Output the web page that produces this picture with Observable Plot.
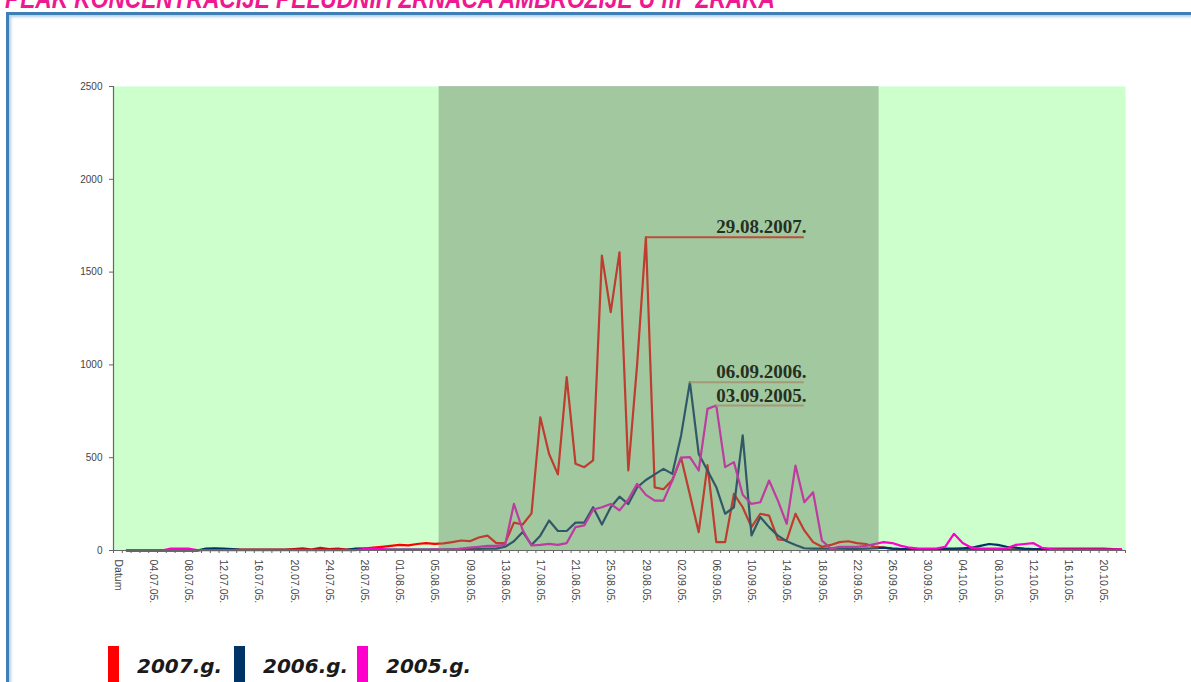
<!DOCTYPE html>
<html>
<head>
<meta charset="utf-8">
<script src="https://cdn.jsdelivr.net/npm/d3@7"></script>
<script src="https://cdn.jsdelivr.net/npm/@observablehq/plot@0.6"></script>
<style>
  body { margin: 0; background: #fff; }
  #wrap { position: relative; width: 1191px; height: 682px; overflow: hidden; background: #fff; }
  #frame { position: absolute; left: 6px; top: 12px; width: 1250px; height: 720px;
           border: 3px solid #3f7fb6; box-shadow: inset 2px 2px 3px #b4d0e8; box-sizing: border-box; }
  #chart, #title, #legend { position: absolute; left: 0; top: 0; }
</style>
</head>
<body>
<div id="wrap">
  <div id="frame"></div>
  <svg id="title" width="1191" height="30"></svg>
  <div id="chart"></div>
  <svg id="legend" width="1191" height="682"></svg>
</div>
<script>
// ---------- data ----------
const titleText = "PEAK KONCENTRACIJE PELUDNIH ZRNACA AMBROZIJE U m³ ZRAKA";

// daily categories: "Datum" followed by 01.07. ... 22.10.
const fmt = d3.utcFormat("%d.%m.%y.");
const categories = ["Datum", ...d3.utcDay.range(Date.UTC(2005, 6, 1), Date.UTC(2005, 9, 23)).map(fmt)];

const tickLabels = ["Datum","04.07.05.","08.07.05.","12.07.05.","16.07.05.","20.07.05.","24.07.05.",
  "28.07.05.","01.08.05.","05.08.05.","09.08.05.","13.08.05.","17.08.05.","21.08.05.","25.08.05.",
  "29.08.05.","02.09.05.","06.09.05.","10.09.05.","14.09.05.","18.09.05.","22.09.05.","26.09.05.",
  "30.09.05.","04.10.05.","08.10.05.","12.10.05.","16.10.05.","20.10.05."];

const yTicks = [0, 500, 1000, 1500, 2000, 2500];

// main ragweed season band (shaded)
const season = ["06.08.05.", "24.09.05."];

// values for 01.07. ... 22.10.
const v2007 = [
  0,0,0,0,0,0,0,0,0,
  5,5,5,5,5,5,5,5,5,5,
  8,12,5,15,8,10,5,8,10,15,
  20,25,30,28,35,40,36,38,45,54,
  50,70,80,40,40,150,140,200,718,520,
  410,934,467,449,485,1589,1284,1607,431,1000,
  1688,340,330,380,500,300,99,460,45,45,
  305,233,126,198,188,60,55,198,108,45,
  20,30,45,50,40,35,20,15,10,8,
  6,5,5,5,5,5,5,5,5,5,
  5,5,5,5,5,8,10,10,10,10,
  10,10,10,8,5];
const v2006 = [
  0,0,0,0,0,0,0,0,0,
  10,12,10,8,3,3,3,3,3,3,
  3,3,3,3,3,3,3,10,10,3,
  3,5,5,5,5,5,5,5,6,8,
  8,8,10,10,20,50,100,30,80,162,
  105,105,150,150,233,140,233,290,250,340,
  380,410,440,413,620,907,520,431,341,198,
  233,620,81,180,126,80,50,30,12,10,
  10,10,10,8,8,10,12,15,10,8,
  8,8,8,8,10,10,12,15,25,35,
  30,20,15,10,8,8,5,5,5,5,
  5,5,5,5,5];
const v2005 = [
  0,0,0,0,0,10,10,10,2,
  2,2,2,2,2,2,2,2,2,2,
  2,2,2,2,2,2,2,2,8,10,
  8,3,3,3,3,3,5,5,5,10,
  15,20,25,25,30,251,110,27,30,36,
  30,40,126,135,220,233,251,216,275,359,
  300,269,269,377,500,503,431,763,781,449,
  476,300,251,260,377,269,144,458,260,314,
  54,10,20,20,20,25,35,45,40,25,
  15,10,10,10,20,90,40,15,10,10,
  10,12,30,35,40,15,8,5,5,5,
  5,5,5,5,8];

const seriesNames = ["2007.g.", "2006.g.", "2005.g."];
const seriesColors = ["#ff0000", "#003366", "#ff00cc"];
const seriesValues = [v2007, v2006, v2005];
const peakLabels = ["29.08.2007.", "06.09.2006.", "03.09.2005."];
const peakLineColors = ["#b9503a", "#a39a78", "#a39a78"];

// ---------- build ----------
const rows = [];
seriesValues.forEach((vals, s) => vals.forEach((v, i) => rows.push({s, k: i + 1, v})));

const annots = seriesValues.map((vals, s) => {
  const i = d3.maxIndex(vals);
  return {s, k: i + 1, v: vals[i], label: peakLabels[s], color: peakLineColors[s]};
});

const labelStart = 68, labelEnd = 78;
const xDomain = [-0.5, categories.length - 0.5];
const seasonIdx = season.map(d => categories.indexOf(d));
const labelIdx = tickLabels.map((_, i) => i * 4);
const labelMap = new Map(labelIdx.map((k, i) => [k, tickLabels[i]]));

const chart = Plot.plot({
  width: 1191, height: 640,
  marginLeft: 113, marginRight: 66, marginTop: 86, marginBottom: 90,
  x: {type: "linear", domain: xDomain, label: null},
  y: {domain: [yTicks[0], yTicks[yTicks.length - 1]], label: null},
  style: {fontFamily: "'Liberation Sans', Arial, sans-serif", color: "#333", background: "transparent", overflow: "visible"},
  marks: [
    Plot.frame({fill: "#ccffcc", stroke: null}),
    ...seriesValues.map((_, s) => Plot.line(rows.filter(r => r.s === s), {
      x: "k", y: "v", stroke: seriesColors[s], strokeWidth: 2.2, strokeLinejoin: "round"
    })),
    Plot.rect([seasonIdx], {
      x1: d => d[0] - 0.5, x2: d => d[1] + 0.5, y1: () => yTicks[0], y2: () => yTicks[yTicks.length - 1],
      fill: "#6f856a", fillOpacity: 0.45
    }),
    Plot.ruleY(annots, {y: "v", x1: "k", x2: () => labelEnd, stroke: d => d.color, strokeWidth: 2}),
    Plot.text(annots, {
      x: () => labelStart, y: "v", text: "label", textAnchor: "start", lineAnchor: "bottom", dy: -4,
      fontFamily: "'Liberation Serif', 'Times New Roman', serif", fontWeight: "bold", fontSize: 19, fill: "#26301f"
    }),
    Plot.ruleY([yTicks[0]], {stroke: "#666", strokeWidth: 1.2}),
    Plot.ruleX([xDomain[0]], {stroke: "#666", strokeWidth: 1.2}),
    Plot.axisY({ticks: yTicks, tickSize: 4, tickPadding: 7, fontSize: 10, stroke: "#666", fill: "#444",
      tickFormat: d3.format("d"), label: null}),
    Plot.axisX({ticks: d3.range(xDomain[0], xDomain[1] + 0.01, 1), tickSize: 3, tickFormat: () => "",
      stroke: "#666", label: null}),
    Plot.axisX({ticks: labelIdx, tickSize: 0, tickPadding: 9, tickRotate: 90,
      tickFormat: d => labelMap.get(d), fontSize: 10.5, fill: "#444", label: null})
  ]
});
document.getElementById("chart").appendChild(chart);

// title (top part cut off by the page edge)
d3.select("#title").append("text")
  .attr("x", 5).attr("y", 8)
  .attr("textLength", 770).attr("lengthAdjust", "spacingAndGlyphs")
  .attr("font-family", "'Liberation Sans Narrow', 'Liberation Sans', Arial, sans-serif")
  .attr("font-weight", "bold").attr("font-style", "italic").attr("font-size", 27)
  .attr("fill", "#f01890").text(titleText);

// legend
const legendX = [108, 234, 357];
const lg = d3.select("#legend");
seriesNames.forEach((name, i) => {
  lg.append("rect").attr("x", legendX[i]).attr("y", 646).attr("width", 11).attr("height", 40)
    .attr("fill", seriesColors[i]);
  lg.append("text").attr("x", legendX[i] + 29).attr("y", 673)
    .attr("font-family", "'DejaVu Sans', Verdana, sans-serif").attr("font-weight", "bold")
    .attr("font-style", "italic").attr("font-size", 20).attr("fill", "#1a1a1a").text(name);
});
</script>
</body>
</html>
